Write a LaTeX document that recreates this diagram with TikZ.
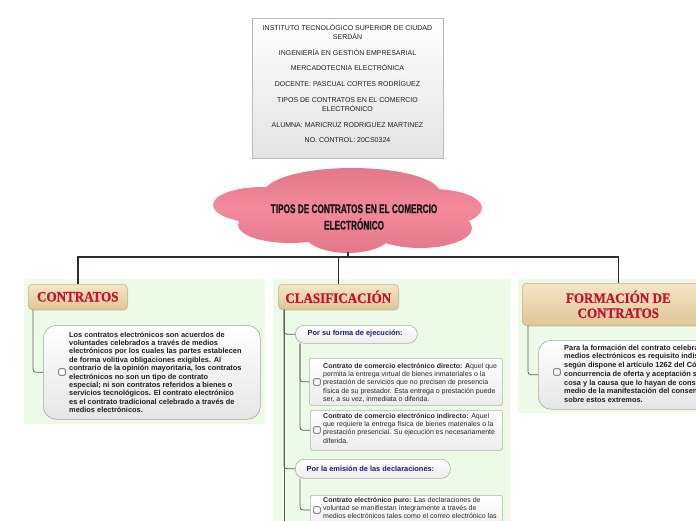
\documentclass[tikz,border=0pt]{standalone}
\usepackage{fontspec}
\setmainfont{Liberation Sans}
\newfontfamily\hdrfont[FakeStretch=0.9,FakeBold=0.6]{Liberation Serif}
\newfontfamily\cloudfont[FakeStretch=0.66,FakeBold=1]{Liberation Sans}
\usetikzlibrary{shadows,calc}
\definecolor{panelc}{RGB}{237,250,232}
\definecolor{tanA}{RGB}{244,230,198}
\definecolor{tanB}{RGB}{222,198,150}
\definecolor{tanD}{RGB}{205,180,135}
\definecolor{hdrred}{RGB}{198,18,48}
\definecolor{cloudc}{RGB}{244,137,155}
\definecolor{cloudd}{RGB}{224,116,136}
\definecolor{navyc}{RGB}{25,25,120}
\definecolor{linec}{RGB}{45,45,45}
\definecolor{subc}{RGB}{95,95,95}
\tikzset{
 mainline/.style={draw=linec, line width=1.6pt},
 subline/.style={draw=subc, line width=0.8pt, rounded corners=3pt},
 panel/.style={fill=panelc},
 hdr/.style={draw=tanD, line width=0.6pt, rounded corners=4pt, top color=tanA, bottom color=tanB,
   drop shadow={opacity=0.3, shadow xshift=0.8pt, shadow yshift=-1.2pt},
   anchor=north west, inner sep=0pt, align=center, text=hdrred,
   font=\hdrfont\bfseries\fontsize{14.5}{15}\selectfont},
 tbox/.style={draw=gray!70, line width=0.6pt, rounded corners=13pt, top color=white, bottom color=gray!20,
   anchor=north west, inner sep=0pt},
 itbox/.style={draw=gray!60, line width=0.6pt, rounded corners=1.5pt, top color=white, bottom color=gray!15,
   anchor=north west, inner sep=0pt},
 pill/.style={draw=gray!65, line width=0.6pt, rounded corners=9pt, top color=white, bottom color=gray!15,
   anchor=north west, inner sep=0pt},
 chk/.style={draw=gray!60!black, line width=0.6pt, fill=white, rounded corners=1pt, minimum size=6.5pt, inner sep=0pt},
 btxt/.style={anchor=north west, inner sep=0pt, align=left, text=black!88, font=\fontsize{7.4}{8.4}\selectfont\bfseries},
 itxt/.style={anchor=north west, inner sep=0pt, align=left, text=black!85, font=\fontsize{7}{8.3}\selectfont},
 ptxt/.style={anchor=west, inner sep=0pt, text=navyc, font=\fontsize{7.4}{8}\selectfont\bfseries},
 ttxt/.style={anchor=north, inner sep=0pt, align=center, text=black!88, font=\fontsize{7}{8.4}\selectfont},
}
\begin{document}
\begin{tikzpicture}[x=1pt,y=-1pt]
\useasboundingbox (0,0) rectangle (696,520);
\clip (0,0) rectangle (696,520);

% panels
\fill[panel] (24,279) rectangle (265,424);
\fill[panel] (273,279) rectangle (510,530);
\fill[panel] (518,279) rectangle (700,413);

% title box
\node[draw=gray!55, line width=0.6pt, top color=white, bottom color=gray!22, anchor=north west,
      minimum width=191pt, minimum height=140pt, inner sep=0pt] (title) at (252,18) {};
\node[ttxt] (titletext) at (347.5,24.5) {INSTITUTO TECNOLÓGICO SUPERIOR DE CIUDAD\\SERDÁN\\[7.5pt]INGENIERÍA EN GESTIÓN EMPRESARIAL\\[7.5pt]MERCADOTECNIA ELECTRÓNICA\\[7.5pt]DOCENTE: PASCUAL CORTES RODRÍGUEZ\\[7.5pt]TIPOS DE CONTRATOS EN EL COMERCIO\\ELECTRÓNICO\\[7.5pt]ALUMNA: MARICRUZ RODRIGUEZ MARTINEZ\\[7.5pt]NO. CONTROL: 20CS0324};

% cloud
\begin{scope}
\clip (352,193) ellipse [x radius=88pt, y radius=25pt]
      (262,205) ellipse [x radius=49pt, y radius=18pt]
      (432,208) ellipse [x radius=50pt, y radius=19pt]
      (290,225) ellipse [x radius=52pt, y radius=18pt]
      (348,232) ellipse [x radius=45pt, y radius=21pt]
      (420,228) ellipse [x radius=52pt, y radius=20pt]
      (348,212) ellipse [x radius=100pt, y radius=25pt];
\shade[top color=cloudd, bottom color=cloudd, middle color=cloudc] (205,160) rectangle (490,260);
\end{scope}
\node[font=\cloudfont\bfseries\fontsize{12.5}{16.5}\selectfont, align=center, text=black!90, inner sep=0pt]
  (cloudtext) at (354,217) {TIPOS DE CONTRATOS EN EL COMERCIO\\ELECTRÓNICO};
\coordinate (cloudbot) at (348,252);
\coordinate (bus) at (348,257);

% headers
\node[hdr, minimum width=99pt, minimum height=25pt] (hdr1) at (28,284) {CONTRATOS};
\node[hdr, minimum width=120pt, minimum height=25pt] (hdr2) at (278,284) {CLASIFICACIÓN};
\node[hdr, minimum width=192pt, minimum height=42pt] (hdr3) at (522,283) {FORMACIÓN DE\\CONTRATOS};

% main connectors
\draw[mainline] (hdr1.north) |- (bus) -| (hdr3.north);
\draw[mainline] (cloudbot) -- (bus);
\draw[mainline] (hdr2.north) |- (bus);

% panel 1
\node[tbox, minimum width=217pt, minimum height=94pt] (tb1) at (43,325) {};
\node[chk] (cb1) at (62,372) {};
\node[btxt] (tb1t) at (69,331.5) {Los contratos electrónicos son acuerdos de\\voluntades celebrados a través de medios\\electrónicos por los cuales las partes establecen\\de forma volitiva obligaciones exigibles. Al\\contrario de la opinión mayoritaria, los contratos\\electrónicos no son un tipo de contrato\\especial; ni son contratos referidos a bienes o\\servicios tecnológicos. El contrato electrónico\\es el contrato tradicional celebrado a través de\\medios electrónicos.};
\draw[subline] ([xshift=5pt]hdr1.south west) |- (tb1.west);

% panel 2
\node[pill, minimum width=122pt, minimum height=18pt] (pill1) at (295,325) {};
\node[ptxt] (pill1t) at (307.5,334) {Por su forma de ejecución:};
\node[itbox, minimum width=193pt, minimum height=47pt] (it1) at (309,358) {};
\node[chk] (cb2) at (317,382) {};
\node[itxt] (it1t) at (323,363) {\textbf{Contrato de comercio electrónico directo: A}quel que\\permita la entrega virtual de bienes inmateriales o la\\prestación de servicios que no precisen de presencia\\física de su prestador. Esta entrega o prestación puede\\ser, a su vez, inmediata o diferida.};
\node[itbox, minimum width=192pt, minimum height=40pt] (it2) at (310,410) {};
\node[chk] (cb3) at (317,430) {};
\node[itxt] (it2t) at (323,413) {\textbf{Contrato de comercio electrónico indirecto:} Aquel\\que requiere la entrega física de bienes materiales o la\\prestación presencial. Su ejecución es necesariamente\\diferida.};
\node[pill, minimum width=155pt, minimum height=19pt] (pill2) at (295,459) {};
\node[ptxt] (pill2t) at (306.5,468.5) {Por la emisión de las declaraciones:};
\node[itbox, minimum width=192pt, minimum height=40pt] (it3) at (310,495) {};
\node[chk] (cb4) at (317,510) {};
\node[itxt] (it3t) at (323,497) {\textbf{Contrato electrónico puro: L}as declaraciones de\\voluntad se manifiestan íntegramente a través de\\medios electrónicos tales como el correo electrónico las};
\coordinate (p2end) at (284,530);
\draw[subline] ([xshift=6pt]hdr2.south west) |- (pill1.west);
\draw[subline] ([xshift=6pt]hdr2.south west) |- (pill2.west);
\draw[subline] ([xshift=6pt]hdr2.south west) -- (p2end);
\draw[subline] ([xshift=5pt]pill1.south west) |- (it1.west);
\draw[subline] ([xshift=5pt]pill1.south west) |- (it2.west);
\draw[subline] ([xshift=5pt]pill2.south west) |- ($(it3.north west)+(0,15)$);

% panel 3
\node[tbox, minimum width=182pt, minimum height=69pt] (tb3) at (538,340) {};
\node[chk] (cb5) at (557,372) {};
\node[btxt, font=\fontsize{7.4}{8.7}\selectfont\bfseries] (tb3t) at (564,344.6) {Para la formación del contrato celebrado por\\medios electrónicos es requisito indispensable,\\según dispone el artículo 1262 del Código Civil, la\\concurrencia de oferta y aceptación sobre la\\cosa y la causa que lo hayan de constituir, por\\medio de la manifestación del consentimiento\\sobre estos extremos.};
\draw[subline] ([xshift=6pt]hdr3.south west) |- (tb3.west);
\end{tikzpicture}
\end{document}
